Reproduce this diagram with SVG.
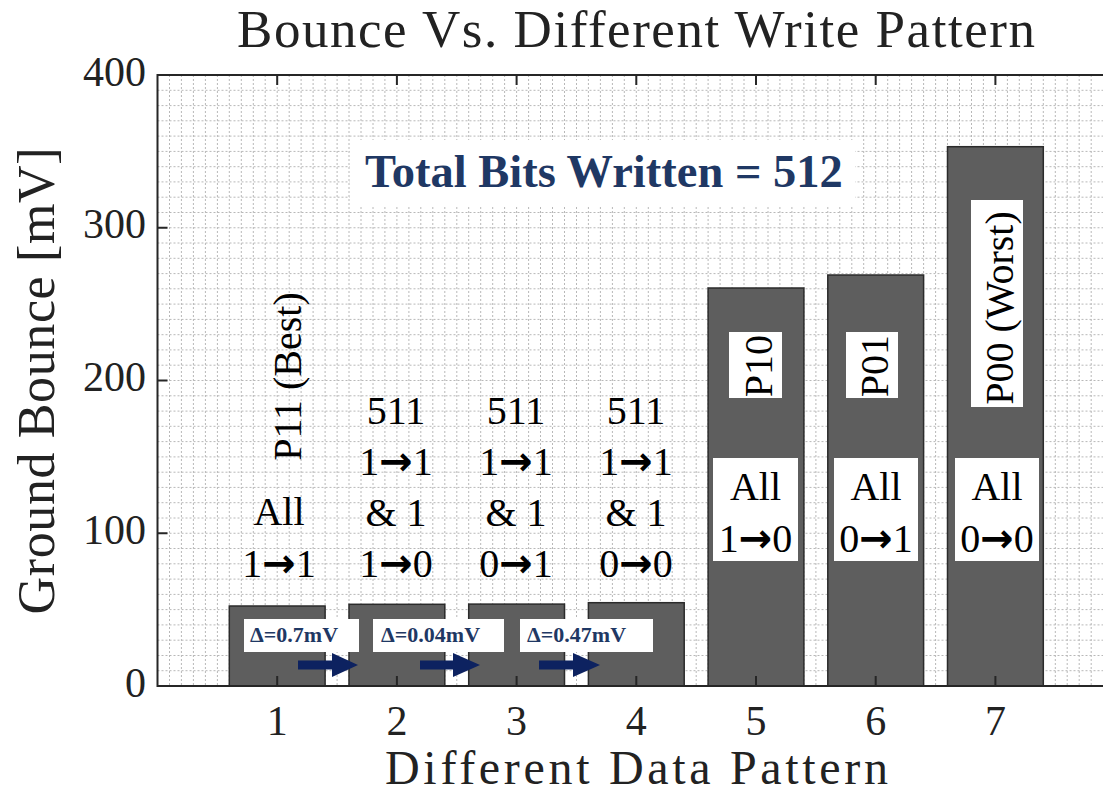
<svg xmlns="http://www.w3.org/2000/svg" width="1103" height="800" viewBox="0 0 1103 800">
  <style>
    .grid { fill: none; stroke: #b8b8b8; stroke-width: 1; stroke-dasharray: 2 2; }
    .bar { fill: #5e5e5e; stroke: #2b2b2b; stroke-width: 1.5; }
    .box { fill: #ffffff; }
    .axis { fill: none; stroke: #262626; stroke-width: 2; }
    .tick { fill: none; stroke: #262626; stroke-width: 2; }
    .cm { font-family: "Liberation Serif", "Times New Roman", serif; fill: #222222; }
    .ticklbl { font-size: 42px; }
    .lbl { font-family: "Liberation Serif", "Times New Roman", serif; font-size: 40px; fill: #000000; text-anchor: middle; }
    .arr { font-family: "DejaVu Sans", sans-serif; font-weight: bold; }
    .delta { font-family: "Liberation Serif", "Times New Roman", serif; font-size: 22px; font-weight: bold; fill: #1f3864; }
    .shift { fill: #0d2260; }
  </style>

  <rect x="0" y="0" width="1103" height="800" fill="#ffffff"/>

  <!-- title -->
  <text class="cm" x="636" y="47" font-size="53" text-anchor="middle" textLength="798" lengthAdjust="spacing">Bounce Vs. Different Write Pattern</text>

  <!-- minor grid: 0.1 per x unit, 10 mV per y step -->
  <g id="grid">
    <path class="grid" d="M169.5 75V686M181.4 75V686M193.4 75V686M205.4 75V686M217.4 75V686M229.3 75V686M241.3 75V686M253.3 75V686M265.2 75V686M277.2 75V686
      M289.2 75V686M301.1 75V686M313.1 75V686M325.1 75V686M337.1 75V686M349 75V686M361 75V686M373 75V686M384.9 75V686M396.9 75V686
      M408.9 75V686M420.8 75V686M432.8 75V686M444.8 75V686M456.8 75V686M468.7 75V686M480.7 75V686M492.7 75V686M504.6 75V686M516.6 75V686
      M528.6 75V686M540.5 75V686M552.5 75V686M564.5 75V686M576.5 75V686M588.4 75V686M600.4 75V686M612.4 75V686M624.3 75V686M636.3 75V686
      M648.3 75V686M660.2 75V686M672.2 75V686M684.2 75V686M696.2 75V686M708.1 75V686M720.1 75V686M732.1 75V686M744 75V686M756 75V686
      M768 75V686M779.9 75V686M791.9 75V686M803.9 75V686M815.9 75V686M827.8 75V686M839.8 75V686M851.8 75V686M863.7 75V686M875.7 75V686
      M887.7 75V686M899.6 75V686M911.6 75V686M923.6 75V686M935.6 75V686M947.5 75V686M959.5 75V686M971.5 75V686M983.4 75V686M995.4 75V686
      M1007.4 75V686M1019.3 75V686M1031.3 75V686M1043.3 75V686M1055.3 75V686M1067.2 75V686M1079.2 75V686M1091.2 75V686"/>
    <path class="grid" d="M157.5 670.7H1103M157.5 655.5H1103M157.5 640.2H1103M157.5 624.9H1103M157.5 609.6H1103M157.5 594.4H1103M157.5 579.1H1103M157.5 563.8H1103M157.5 548.5H1103M157.5 533.25H1103
      M157.5 518H1103M157.5 502.7H1103M157.5 487.4H1103M157.5 472.2H1103M157.5 456.9H1103M157.5 441.6H1103M157.5 426.3H1103M157.5 411.1H1103M157.5 395.8H1103M157.5 380.5H1103
      M157.5 365.2H1103M157.5 349.9H1103M157.5 334.7H1103M157.5 319.4H1103M157.5 304.1H1103M157.5 288.8H1103M157.5 273.6H1103M157.5 258.3H1103M157.5 243H1103M157.5 227.75H1103
      M157.5 212.5H1103M157.5 197.2H1103M157.5 181.9H1103M157.5 166.7H1103M157.5 151.4H1103M157.5 136.1H1103M157.5 120.8H1103M157.5 105.6H1103M157.5 90.3H1103"/>
  </g>

  <!-- headline box -->
  <g id="total-bits">
    <rect class="box" x="350" y="140" width="505" height="65"/>
    <text x="365" y="187" font-family="Liberation Serif, Times New Roman, serif" font-size="46.5" font-weight="bold" fill="#1f3864">Total Bits Written = 512</text>
  </g>

  <!-- pattern 1 -->
  <g id="bar-1">
    <rect class="bar" x="229.3" y="606" width="95.8" height="80"/>
    <text class="lbl" transform="translate(301 376.5) rotate(-90)">P11 (Best)</text>
    <text class="lbl" x="279" y="525">All</text>
    <text class="lbl" x="279" y="577">1<tspan class="arr">→</tspan>1</text>
  </g>

  <!-- pattern 2 -->
  <g id="bar-2">
    <rect class="bar" x="349" y="604.3" width="95.8" height="81.7"/>
    <text class="lbl" x="396" y="424">511</text>
    <text class="lbl" x="396" y="475">1<tspan class="arr">→</tspan>1</text>
    <text class="lbl" x="396" y="526">&amp; 1</text>
    <text class="lbl" x="396" y="577">1<tspan class="arr">→</tspan>0</text>
  </g>

  <!-- pattern 3 -->
  <g id="bar-3">
    <rect class="bar" x="468.7" y="604.1" width="95.8" height="81.9"/>
    <text class="lbl" x="516" y="424">511</text>
    <text class="lbl" x="516" y="475">1<tspan class="arr">→</tspan>1</text>
    <text class="lbl" x="516" y="526">&amp; 1</text>
    <text class="lbl" x="516" y="577">0<tspan class="arr">→</tspan>1</text>
  </g>

  <!-- pattern 4 -->
  <g id="bar-4">
    <rect class="bar" x="588.4" y="602.7" width="95.8" height="83.3"/>
    <text class="lbl" x="636" y="424">511</text>
    <text class="lbl" x="636" y="475">1<tspan class="arr">→</tspan>1</text>
    <text class="lbl" x="636" y="526">&amp; 1</text>
    <text class="lbl" x="636" y="577">0<tspan class="arr">→</tspan>0</text>
  </g>

  <!-- pattern 5 -->
  <g id="bar-5">
    <rect class="bar" x="708.1" y="288" width="95.8" height="398"/>
    <rect class="box" x="729" y="332" width="53" height="66"/>
    <text class="lbl" transform="translate(771.5 366) rotate(-90)">P10</text>
    <rect class="box" x="713" y="458" width="85" height="103"/>
    <text class="lbl" x="755.5" y="500">All</text>
    <text class="lbl" x="755.5" y="552">1<tspan class="arr">→</tspan>0</text>
  </g>

  <!-- pattern 6 -->
  <g id="bar-6">
    <rect class="bar" x="827.8" y="275" width="95.8" height="411"/>
    <rect class="box" x="846" y="332" width="52" height="66"/>
    <text class="lbl" transform="translate(888 366) rotate(-90)">P01</text>
    <rect class="box" x="834" y="458" width="84" height="103"/>
    <text class="lbl" x="876" y="500">All</text>
    <text class="lbl" x="876" y="552">0<tspan class="arr">→</tspan>1</text>
  </g>

  <!-- pattern 7 -->
  <g id="bar-7">
    <rect class="bar" x="947.5" y="146.7" width="95.8" height="539.3"/>
    <rect class="box" x="971" y="200" width="52" height="207"/>
    <text class="lbl" transform="translate(1013 308) rotate(-90)">P00 (Worst)</text>
    <rect class="box" x="955" y="458" width="84" height="103"/>
    <text class="lbl" x="997" y="500">All</text>
    <text class="lbl" x="997" y="552">0<tspan class="arr">→</tspan>0</text>
  </g>

  <!-- difference callouts -->
  <g id="delta-1">
    <rect class="box" x="244" y="619" width="115" height="33"/>
    <text class="delta" x="250" y="642">Δ=0.7mV</text>
  </g>
  <g id="delta-2">
    <rect class="box" x="373" y="619" width="131" height="33"/>
    <text class="delta" x="381" y="642">Δ=0.04mV</text>
  </g>
  <g id="delta-3">
    <rect class="box" x="520" y="619" width="133" height="33"/>
    <text class="delta" x="527" y="642">Δ=0.47mV</text>
  </g>

  <!-- step arrows between neighbouring patterns -->
  <g id="connectors">
    <polygon class="shift" points="298,660.5 332,660.5 332,653 358,665 332,677 332,669.5 298,669.5"/>
    <polygon class="shift" points="420,660.5 453,660.5 453,653 480,665 453,677 453,669.5 420,669.5"/>
    <polygon class="shift" points="539,660.5 573,660.5 573,653 600,665 573,677 573,669.5 539,669.5"/>
  </g>

  <!-- axes frame and ticks -->
  <g id="axes">
    <path class="axis" d="M1110 75H157.5V686H1110"/>
    <path class="tick" d="M157.5 533.25h10M157.5 380.5h10M157.5 227.75h10
      M277.2 686v-10M396.9 686v-10M516.6 686v-10M636.3 686v-10M756 686v-10M875.7 686v-10M995.4 686v-10
      M277.2 75v10M396.9 75v10M516.6 75v10M636.3 75v10M756 75v10M875.7 75v10M995.4 75v10"/>
  </g>

  <!-- y tick labels -->
  <g id="y-ticks" class="cm ticklbl" text-anchor="end">
    <text x="146" y="697">0</text>
    <text x="146" y="544">100</text>
    <text x="146" y="391">200</text>
    <text x="146" y="238">300</text>
    <text x="146" y="86">400</text>
  </g>

  <!-- x tick labels -->
  <g id="x-ticks" class="cm ticklbl" text-anchor="middle">
    <text x="277.2" y="735">1</text>
    <text x="396.9" y="735">2</text>
    <text x="516.6" y="735">3</text>
    <text x="636.3" y="735">4</text>
    <text x="756" y="735">5</text>
    <text x="875.7" y="735">6</text>
    <text x="995.4" y="735">7</text>
  </g>

  <!-- axis titles -->
  <text class="cm" x="636.5" y="784" font-size="48" text-anchor="middle" textLength="503" lengthAdjust="spacing">Different Data Pattern</text>
  <text class="cm" transform="translate(54 381) rotate(-90)" font-size="52" text-anchor="middle" textLength="467" lengthAdjust="spacing">Ground Bounce [mV]</text>
</svg>
